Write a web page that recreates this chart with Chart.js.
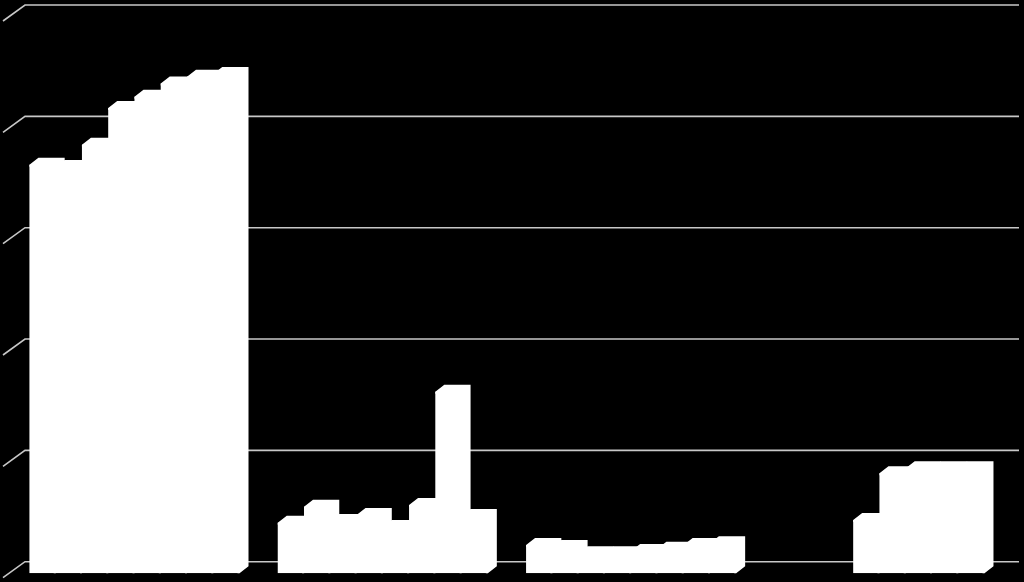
<!DOCTYPE html>
<html>
<head>
<meta charset="utf-8">
<title>Chart</title>
<script src="https://cdn.jsdelivr.net/npm/chart.js@4.4.1/dist/chart.umd.min.js"></script>
<style>
  html, body { margin: 0; padding: 0; background: #000; }
  #chart { display: block; }
</style>
</head>
<body>
<canvas id="chart" width="1024" height="582"></canvas>
<script>
// Data (no labels are shown in it)
const categories = ['Group 1', 'Group 2', 'Group 3', 'Group 4'];
const seriesNames = ['S1', 'S2', 'S3', 'S4', 'S5', 'S6', 'S7', 'S8'];
const s1 = [36.7, 4.55, 2.54, null];
const s2 = [36.5, 5.98, 2.36, null];
const s3 = [38.5, 4.70, 1.80, null];
const s4 = [41.8, 5.24, 1.80, 4.79];
const s5 = [42.8, 4.16, 2.00, 8.98];
const s6 = [44.0, 6.13, 2.21, 9.44];
const s7 = [44.6, 16.31, 2.54, 9.44];
const s8 = [44.85, 5.15, 2.69, 9.44];
const yTicks = [0, 10, 20, 30, 40, 50];

const seriesValues = [s1, s2, s3, s4, s5, s6, s7, s8];

// 3D look
const barDepthX = 9, barDepthY = 7;
const wallDepthX = 22, wallDepthY = 16;
const wallLift = 11.6;

// back wall + side wall gridlines
const wallGrid = {
  id: 'wallGrid',
  beforeDatasetsDraw(chart) {
    const ctx = chart.ctx;
    const y = chart.scales.y;
    ctx.save();
    ctx.strokeStyle = '#c8c8c8';
    ctx.lineWidth = 1.6;
    yTicks.forEach(t => {
      const py = y.getPixelForValue(t) - wallLift;
      ctx.beginPath();
      ctx.moveTo(3, py + wallDepthY);
      ctx.lineTo(3 + wallDepthX, py);
      ctx.lineTo(1019, py);
      ctx.stroke();
    });
    ctx.restore();
  }
};

// top and side faces of each bar (overlap the front face a bit so no seam shows)
const bar3d = {
  id: 'bar3d',
  afterDatasetsDraw(chart) {
    const ctx = chart.ctx;
    ctx.save();
    ctx.fillStyle = '#ffffff';
    chart.data.datasets.forEach((ds, i) => {
      const meta = chart.getDatasetMeta(i);
      meta.data.forEach((bar, j) => {
        if (ds.data[j] == null) return;
        const p = bar.getProps(['x', 'y', 'base', 'width'], true);
        const left = p.x - p.width / 2;
        const right = p.x + p.width / 2;
        ctx.beginPath();
        ctx.moveTo(left + 1, p.y + 2);
        ctx.lineTo(left, p.y + 2);
        ctx.lineTo(left, p.y);
        ctx.lineTo(left + barDepthX, p.y - barDepthY);
        ctx.lineTo(right + barDepthX, p.y - barDepthY);
        ctx.lineTo(right + barDepthX, p.base - barDepthY);
        ctx.lineTo(right, p.base);
        ctx.lineTo(right - 2, p.base);
        ctx.lineTo(right - 2, p.y + 2);
        ctx.closePath();
        ctx.fill();
      });
    });
    ctx.restore();
  }
};

new Chart(document.getElementById('chart').getContext('2d'), {
  type: 'bar',
  data: {
    labels: categories,
    datasets: seriesValues.map((vals, i) => ({
      label: seriesNames[i],
      data: vals,
      backgroundColor: '#ffffff',
      borderWidth: 0,
      barPercentage: 1.0,
      categoryPercentage: 0.846
    }))
  },
  options: {
    responsive: false,
    animation: false,
    layout: {
      padding: { left: 10.3, right: 20.4, top: 16.6, bottom: 8.7 }
    },
    plugins: {
      legend: { display: false },
      tooltip: { enabled: false }
    },
    scales: {
      x: { display: false },
      y: { display: false, min: 0, max: 50 }
    }
  },
  plugins: [wallGrid, bar3d]
});
</script>
</body>
</html>
